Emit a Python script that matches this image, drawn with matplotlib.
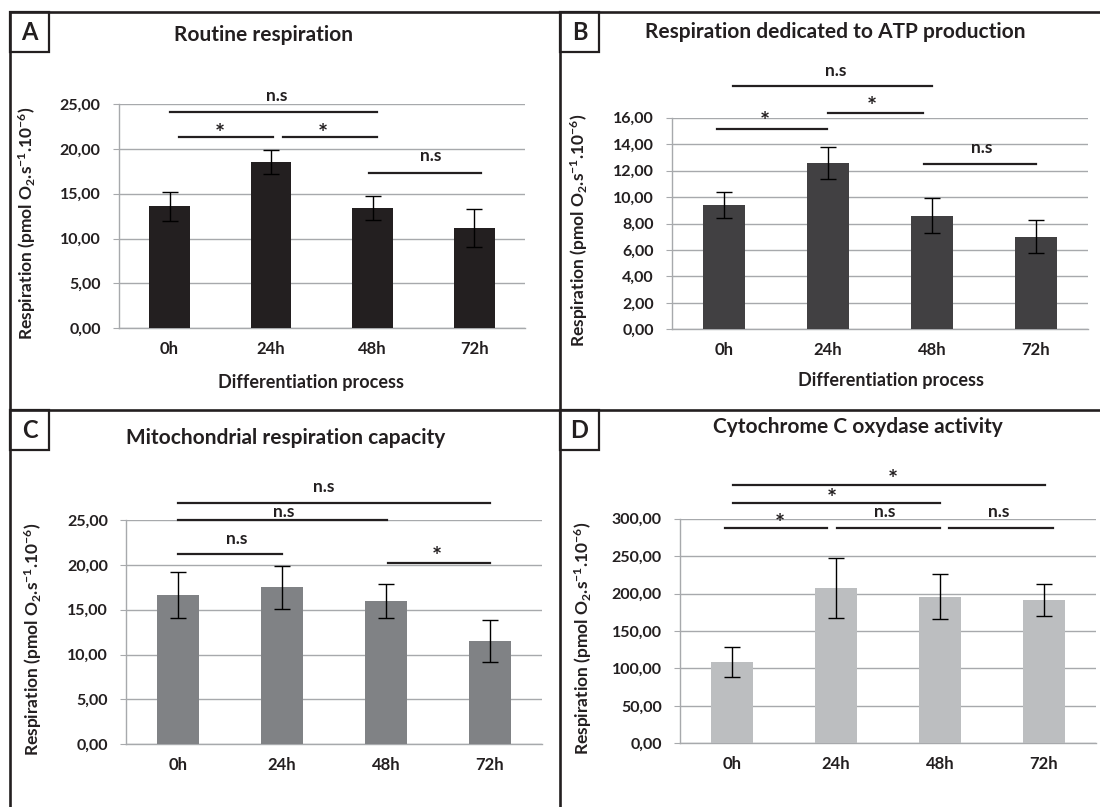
import matplotlib
matplotlib.use("Agg")
import matplotlib.pyplot as plt
from matplotlib.lines import Line2D
from matplotlib.patches import Rectangle

plt.rcParams['font.family'] = ['Lato', 'DejaVu Sans']
plt.rcParams['font.weight'] = 'bold'
plt.rcParams['axes.labelweight'] = 'bold'
plt.rcParams['mathtext.fontset'] = 'custom'
plt.rcParams['mathtext.rm'] = 'Lato:bold'
plt.rcParams['mathtext.bf'] = 'Lato:bold'
plt.rcParams['mathtext.default'] = 'bf'

# données
hours = ['0h', '24h', '48h', '72h']

routine = [13.6, 18.5, 13.4, 11.2]
routine_err = [1.6, 1.35, 1.3, 2.1]

atp = [9.4, 12.6, 8.6, 7.0]
atp_err = [0.95, 1.2, 1.35, 1.25]

capacity = [16.6, 17.5, 16.0, 11.5]
capacity_err = [2.55, 2.4, 1.9, 2.35]

cox = [109.0, 207.5, 196.0, 191.0]
cox_err = [19.8, 39.5, 29.5, 21.5]

# tests de significativité : (x début, x fin, y ligne, texte, x texte, y texte)
sig_a = [(0.0, 2.04, 24.07, 'n.s', 1.05, 25.9),
         (0.09, 1.02, 21.28, '*', 0.49, 21.6),
         (1.12, 2.04, 21.28, '*', 1.51, 21.6),
         (1.96, 3.07, 17.34, 'n.s', 2.57, 19.2)]
sig_b = [(0.09, 2.0, 18.37, 'n.s', 1.07, 19.55),
         (-0.07, 0.99, 15.12, '*', 0.39, 15.6),
         (1.0, 1.91, 16.38, '*', 1.42, 16.75),
         (1.92, 3.0, 12.5, 'n.s', 2.48, 13.7)]
sig_c = [(0.0, 3.0, 26.93, 'n.s', 1.40, 28.7),
         (0.0, 2.01, 24.96, 'n.s', 1.02, 25.85),
         (0.0, 1.0, 21.17, 'n.s', 0.56, 22.85),
         (2.02, 3.0, 20.17, '*', 2.49, 20.8)]
sig_d = [(0.01, 3.01, 345.0, '*', 1.55, 351.0),
         (0.01, 2.0, 320.5, '*', 0.96, 326.0),
         (-0.07, 0.91, 287.0, '*', 0.46, 292.0),
         (1.01, 2.0, 287.0, 'n.s', 1.47, 308.5),
         (2.09, 3.09, 287.0, 'n.s', 2.56, 308.5)]

W, H = 1100, 807
fig = plt.figure(figsize=(11, 8.07), dpi=100)

dark = '#231f20'
grid = '#a7a9ac'


def px(x, y):
    return x / W, 1 - y / H


def panel(rect_px, vals, errs, color, ymax, ystep, title, title_xy, sig, xlabel, ylab_x, xlab_xy=None):
    x0, y0, x1, y1 = rect_px
    left, top = px(x0, y0)
    right, bottom = px(x1, y1)
    ax = fig.add_axes([left, bottom, right - left, top - bottom])
    xs = list(range(len(hours)))
    ax.bar(xs, vals, width=0.4, color=color, zorder=3)
    ax.errorbar(xs, vals, yerr=errs, fmt='none', ecolor='black', elinewidth=1.0,
                capsize=6, capthick=1.0, zorder=4)
    ax.set_xlim(-0.5, 3.5)
    ax.set_ylim(0, ymax)
    ticks = [i * ystep for i in range(int(round(ymax / ystep)) + 1)]
    ax.set_yticks(ticks)
    ax.set_yticklabels(['{:.2f}'.format(t).replace('.', ',') for t in ticks], fontsize=11.5)
    ax.set_xticks(xs)
    ax.set_xticklabels(hours, fontsize=12)
    ax.yaxis.grid(True, color=grid, linewidth=1.0, zorder=0)
    for s in ['top', 'right']:
        ax.spines[s].set_visible(False)
    for s in ['left', 'bottom']:
        ax.spines[s].set_color(grid)
        ax.spines[s].set_linewidth(1.0)
    ax.tick_params(axis='y', length=4, color=grid, pad=9, labelcolor=dark)
    ax.tick_params(axis='x', length=0, pad=9, labelcolor=dark)
    ax.set_ylabel(r'Respiration (pmol O$_2$.s$^{-1}$.10$^{-6}$)', fontsize=12.5,
                  color=dark, fontweight='bold')
    ax.yaxis.set_label_coords(ylab_x, 0.47)
    if xlabel:
        ax.set_xlabel(xlabel, fontsize=13, color=dark, fontweight='bold')
        ax.xaxis.set_label_coords(*xlab_xy)
    for a, b, yl, txt, xt, yt in sig:
        ax.plot([a, b], [yl, yl], color=dark, lw=1.6, clip_on=False, zorder=5)
        ax.text(xt, yt, txt, ha='center', va='center', fontsize=12.5 if txt != '*' else 17,
                color=dark, clip_on=False)
    fig.text(*px(*title_xy), title, ha='center', va='center', fontsize=15, color=dark)
    return ax


panel((118.8, 104, 525, 328.3), routine, routine_err, '#231f20', 25, 5,
      'Routine respiration', (264, 35), sig_a, 'Differentiation process', -0.199, (0.473, -0.205))
panel((672, 117.7, 1088, 329.3), atp, atp_err, '#414042', 16, 2,
      'Respiration dedicated to ATP production', (835, 32), sig_b, 'Differentiation process',
      -0.197, (0.526, -0.2))
panel((126, 520, 542, 744.3), capacity, capacity_err, '#808285', 25, 5,
      'Mitochondrial respiration capacity', (286, 438), sig_c, None, -0.197)
panel((680, 518.7, 1096, 743.3), cox, cox_err, '#bcbec0', 300, 50,
      'Cytochrome C oxydase activity', (858, 427), sig_d, None, -0.207)

# cadres des panneaux
def fline(xa, ya, xb, yb):
    (fa, ga), (fb, gb) = px(xa, ya), px(xb, yb)
    fig.add_artist(Line2D([fa, fb], [ga, gb], color=dark, lw=1.9))

fline(10, 12, 1100, 12)
fline(10, 410, 1100, 410)
fline(10, 12, 10, 807)
fline(560, 12, 560, 807)

for lab, (bx, by) in zip(['A', 'B', 'C', 'D'], [(10, 12), (560, 12), (10, 410), (560, 410)]):
    fx0, fy0 = px(bx, by + 40)
    fig.add_artist(Rectangle((fx0, fy0), 39 / W, 40 / H, transform=fig.transFigure,
                             fill=False, edgecolor=dark, lw=1.6))
    fig.text(*px(bx + 19.5, by + 21), lab, ha='center', va='center', fontsize=17, color=dark)

fig.savefig('out.png', dpi=100)
